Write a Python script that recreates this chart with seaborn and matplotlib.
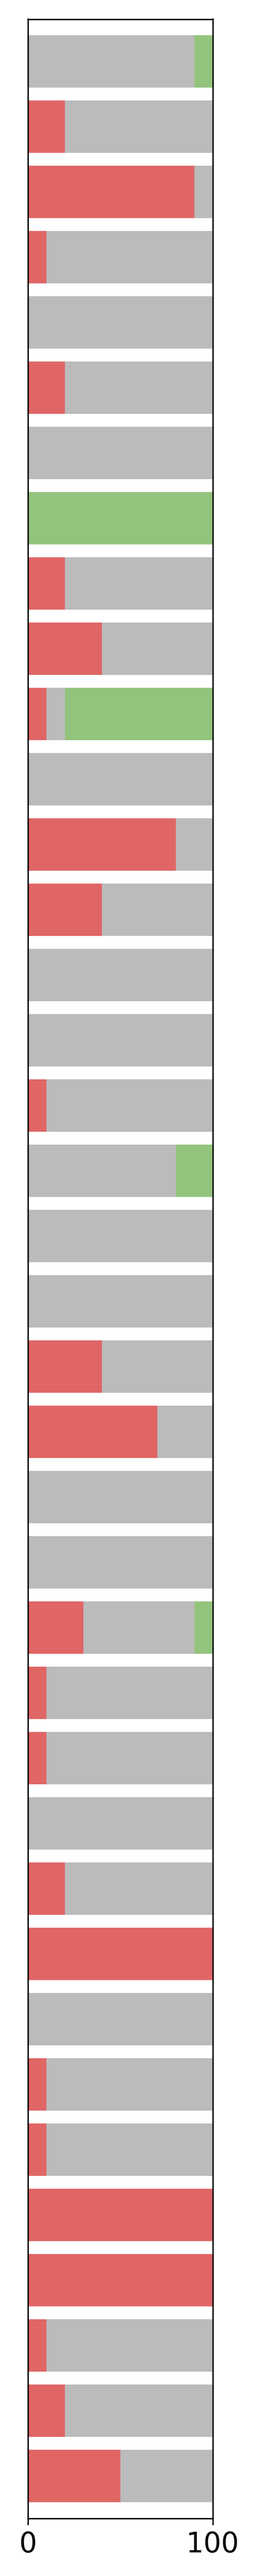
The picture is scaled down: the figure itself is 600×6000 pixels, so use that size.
import numpy as np
import pandas as pd
import matplotlib
matplotlib.use("Agg")
import matplotlib.pyplot as plt
import seaborn as sns

# share of each row, in percent (top row first)
items = [f"item_{i + 1}" for i in range(38)]
red_pct = [0, 20, 90, 10, 0, 20, 0, 0, 20, 40, 10, 0, 80, 40, 0, 0, 10, 0, 0,
           0, 40, 70, 0, 0, 30, 10, 10, 0, 20, 100, 0, 10, 10, 100, 100, 10, 20, 50]
gray_pct = [90, 80, 10, 90, 100, 80, 100, 0, 80, 60, 10, 100, 20, 60, 100, 100, 90, 80, 100,
            100, 60, 30, 100, 100, 60, 90, 90, 100, 80, 0, 100, 90, 90, 0, 0, 90, 80, 50]
green_pct = [10, 0, 0, 0, 0, 0, 0, 100, 0, 0, 80, 0, 0, 0, 0, 0, 0, 20, 0,
             0, 0, 0, 0, 0, 10, 0, 0, 0, 0, 0, 0, 0, 0, 0, 0, 0, 0, 0]

RED = "#E06666"
GRAY = "#BBBBBB"
GREEN = "#93C47D"

df = pd.DataFrame({"item": items, "red": red_pct, "gray": gray_pct, "green": green_pct})
# stacked layers: draw the running totals back to front
df["upto_gray"] = df["red"] + df["gray"]
df["upto_green"] = df["upto_gray"] + df["green"]

fig = plt.figure(figsize=(2, 20), dpi=300)
ax = fig.add_axes([65 / 600, 1 - 5866 / 6000, 430 / 600, (5866 - 44.5) / 6000])

for col, color in [("upto_green", GREEN), ("upto_gray", GRAY), ("red", RED)]:
    sns.barplot(data=df, x=col, y="item", order=items, color=color,
                saturation=1, orient="h", width=0.8, errorbar=None, ax=ax)

ax.set_xlim(0, 100)
ax.set_ylim(len(items) - 1 + 0.65, -0.65)
ax.set_xticks([0, 100])
ax.tick_params(axis="x", labelsize=15.5)
ax.tick_params(axis="y", left=False, labelleft=False)
ax.set_xlabel("")
ax.set_ylabel("")

fig.savefig("out.png", dpi=300)
